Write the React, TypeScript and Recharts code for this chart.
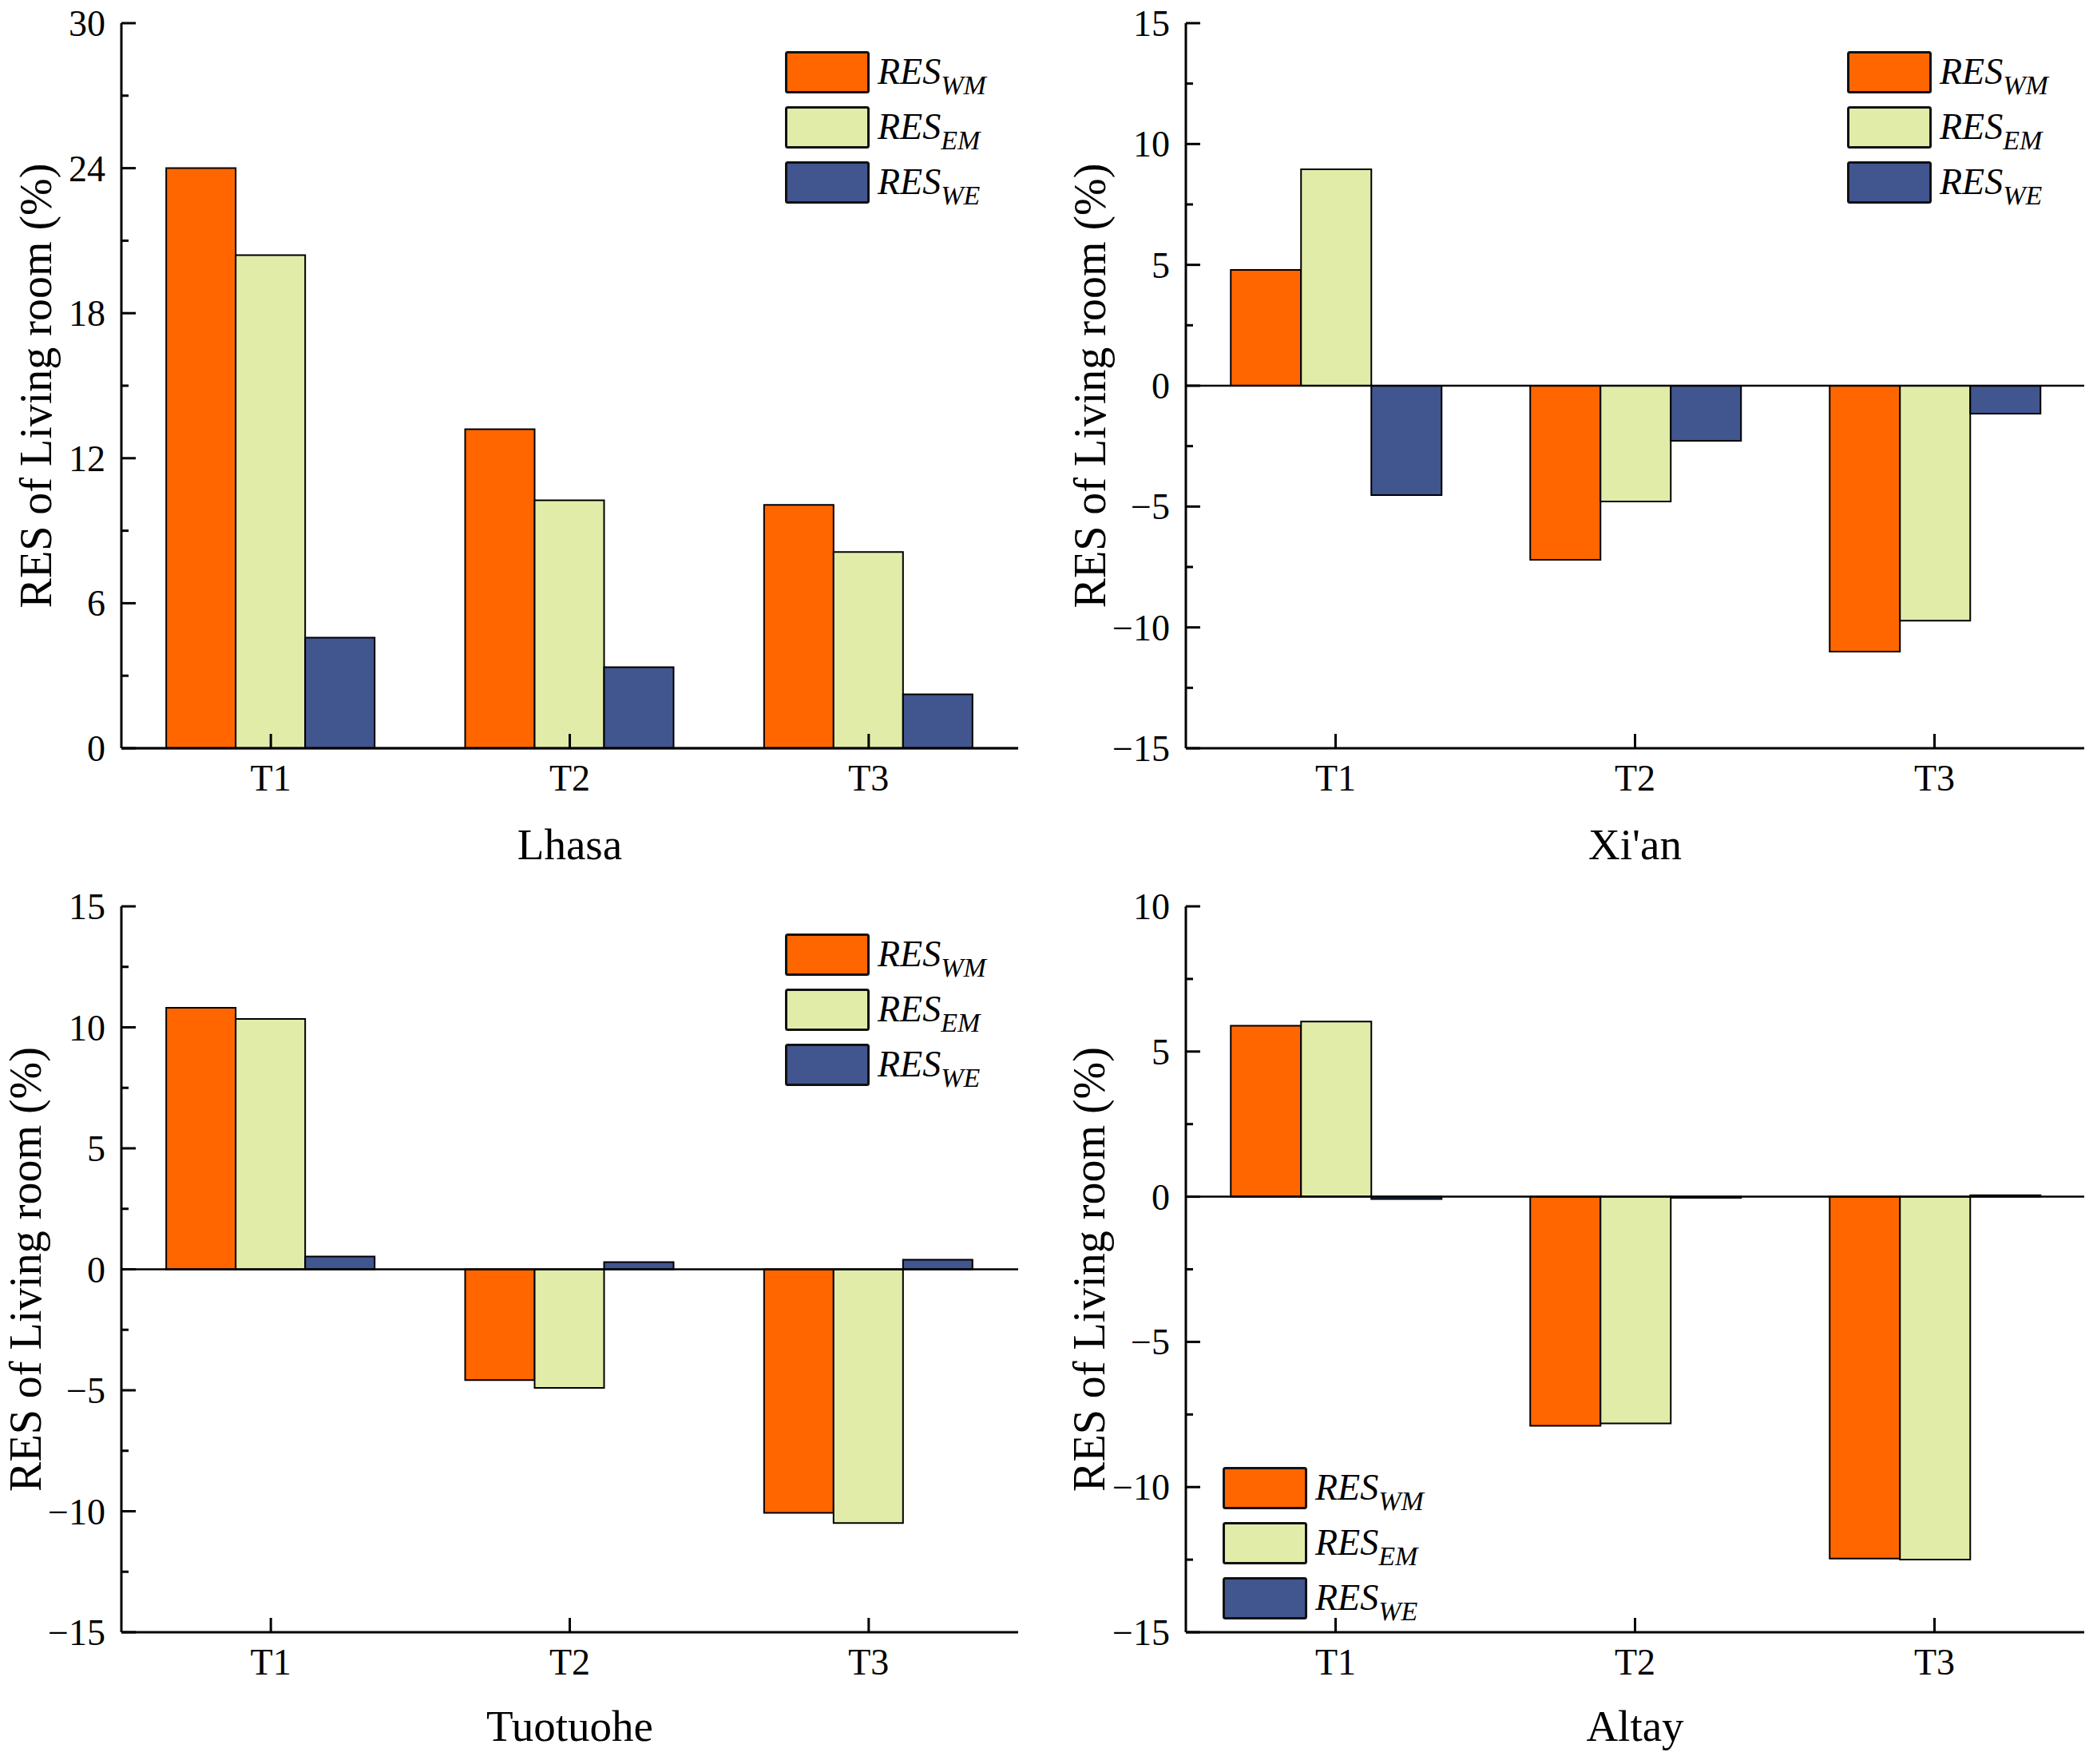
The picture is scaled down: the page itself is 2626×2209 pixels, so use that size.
import React from "react";
import { BarChart, Bar, XAxis, YAxis, ReferenceLine, Legend } from "recharts";

const FONT = "'Times New Roman', 'Liberation Serif', serif";
const COLORS = ["#ff6600", "#e1eca9", "#41558f"];

const categories = ["T1", "T2", "T3"];
const seriesKeys = ["WM", "EM", "WE"];

// values (%)
const lhasaWM = [24.0, 13.2, 10.07];
const lhasaEM = [20.4, 10.26, 8.12];
const lhasaWE = [4.58, 3.35, 2.23];

const xianWM = [4.79, -7.2, -11.0];
const xianEM = [8.95, -4.79, -9.72];
const xianWE = [-4.53, -2.28, -1.16];

const tuoWM = [10.81, -4.58, -10.07];
const tuoEM = [10.35, -4.9, -10.49];
const tuoWE = [0.53, 0.3, 0.4];

const altayWM = [5.89, -7.89, -12.46];
const altayEM = [6.03, -7.81, -12.5];
const altayWE = [-0.08, -0.04, 0.05];

const lhasaTicks = [0, 6, 12, 18, 24, 30];
const xianTicks = [-15, -10, -5, 0, 5, 10, 15];
const tuoTicks = [-15, -10, -5, 0, 5, 10, 15];
const altayTicks = [-15, -10, -5, 0, 5, 10];

const fmt = (v: number) => (v < 0 ? "\u2212" + Math.abs(v) : String(v));

const withMinors = (majors: number[]) => {
  const out: number[] = [];
  majors.forEach((m, i) => {
    out.push(m);
    if (i < majors.length - 1) out.push((m + majors[i + 1]) / 2);
  });
  return out;
};

const makeYTick = (majors: number[]) => (props: any) => {
  const { x, y, payload } = props;
  const major = majors.includes(payload.value);
  return (
    <g>
      <line x1={x} x2={x + (major ? 18 : 9)} y1={y} y2={y} stroke="#000" strokeWidth={3} />
      {major && (
        <text x={x - 20} y={y + 16} textAnchor="end" fontSize={46} fontFamily={FONT} fill="#000">
          {fmt(payload.value)}
        </text>
      )}
    </g>
  );
};

const XTick = (props: any) => {
  const { x, y, payload } = props;
  return (
    <g>
      <line x1={x} x2={x} y1={y} y2={y - 18} stroke="#000" strokeWidth={3} />
      <text x={x} y={y + 53} textAnchor="middle" fontSize={46} fontFamily={FONT} fill="#000">
        {payload.value}
      </text>
    </g>
  );
};

const LegendBox = (props: any) => {
  const payload = props.payload && props.payload.length ? props.payload : [];
  const items = seriesKeys.map((k, i) => {
    const p = payload.find((e: any) => e.value === k);
    return { key: k, color: p && p.color ? p.color : COLORS[i] };
  });
  return (
    <svg width={340} height={200} style={{ display: "block" }}>
      {items.map((it, i) => (
        <g key={it.key} transform={`translate(0, ${i * 69})`}>
          <rect x={1.5} y={1.5} width={103} height={50} fill={it.color} stroke="#111" strokeWidth={3} rx={2} />
          <text x={116} y={41} fontSize={46} fontStyle="italic" fontFamily={FONT} fill="#000">
            RES
            <tspan dy={13} fontSize={34}>
              {it.key}
            </tspan>
          </text>
        </g>
      ))}
    </svg>
  );
};

type PanelProps = {
  title: string;
  wm: number[];
  em: number[];
  we: number[];
  ticks: number[];
  left: number;
  top: number;
  plotLeft: number;
  plotRight: number;
  plotTop: number;
  plotBottom: number;
  labelX: number;
  legendLeft: number;
  legendTop: number;
};

const W = 1313;
const H = 1104;

function Panel(p: PanelProps) {
  const data = categories.map((c, i) => ({ cat: c, WM: p.wm[i], EM: p.em[i], WE: p.we[i] }));
  const domain: [number, number] = [p.ticks[0], p.ticks[p.ticks.length - 1]];
  const allTicks = withMinors(p.ticks);
  return (
    <div style={{ position: "absolute", left: p.left, top: p.top }}>
      <BarChart
        width={W}
        height={H}
        data={data}
        barCategoryGap="15%"
        barGap={0}
        margin={{ top: p.plotTop, right: W - p.plotRight, left: 0, bottom: 0 }}
      >
        <XAxis
          dataKey="cat"
          height={H - p.plotBottom}
          axisLine={{ stroke: "#000", strokeWidth: 3 }}
          tickLine={false}
          tickSize={0}
          tickMargin={0}
          tick={<XTick />}
          interval={0}
          label={{ value: p.title, position: "insideBottom", offset: 28, fontSize: 55, fontFamily: FONT, fill: "#000" }}
        />
        <XAxis xAxisId="top" dataKey="cat" orientation="top" height={0} tick={false} tickLine={false} axisLine={{ stroke: "#000", strokeWidth: 3 }} />
        <YAxis
          type="number"
          domain={domain}
          ticks={allTicks}
          interval={0}
          allowDataOverflow
          width={p.plotLeft}
          axisLine={{ stroke: "#000", strokeWidth: 3 }}
          tickLine={false}
          tickSize={0}
          tickMargin={0}
          tick={makeYTick(p.ticks)}
          label={{
            value: "RES of Living room (%)",
            angle: -90,
            position: "insideLeft",
            offset: p.labelX,
            fontSize: 56,
            fontFamily: FONT,
            fill: "#000",
            style: { textAnchor: "middle" },
          }}
        />
        <YAxis yAxisId="right" orientation="right" type="number" domain={domain} width={0} tick={false} tickLine={false} axisLine={{ stroke: "#000", strokeWidth: 3 }} />
        {seriesKeys.map((k, i) => (
          <Bar key={k} dataKey={k} name={k} fill={COLORS[i]} stroke="#000" strokeWidth={2} isAnimationActive={false} />
        ))}
        <ReferenceLine y={0} stroke="#000" strokeWidth={2.5} />
        <Legend
          layout="vertical"
          align="center"
          verticalAlign="middle"
          content={<LegendBox />}
          wrapperStyle={{ left: p.legendLeft, top: p.legendTop, width: 340, height: 200 }}
        />
      </BarChart>
    </div>
  );
}

export default function App() {
  return (
    <div style={{ position: "absolute", left: 0, top: 0, width: 2626, height: 2209, background: "#fff" }}>
      <Panel title="Lhasa" wm={lhasaWM} em={lhasaEM} we={lhasaWE} ticks={lhasaTicks}
        left={0} top={0} plotLeft={152} plotRight={1275} plotTop={29} plotBottom={937}
        labelX={44} legendLeft={983} legendTop={64} />
      <Panel title="Xi'an" wm={xianWM} em={xianEM} we={xianWE} ticks={xianTicks}
        left={1313} top={0} plotLeft={172} plotRight={1297} plotTop={29} plotBottom={937}
        labelX={51} legendLeft={1000} legendTop={64} />
      <Panel title="Tuotuohe" wm={tuoWM} em={tuoEM} we={tuoWE} ticks={tuoTicks}
        left={0} top={1104} plotLeft={152} plotRight={1275} plotTop={31} plotBottom={940}
        labelX={31} legendLeft={983} legendTop={65} />
      <Panel title="Altay" wm={altayWM} em={altayEM} we={altayWE} ticks={altayTicks}
        left={1313} top={1104} plotLeft={172} plotRight={1297} plotTop={31} plotBottom={940}
        labelX={50} legendLeft={218} legendTop={733} />
    </div>
  );
}
